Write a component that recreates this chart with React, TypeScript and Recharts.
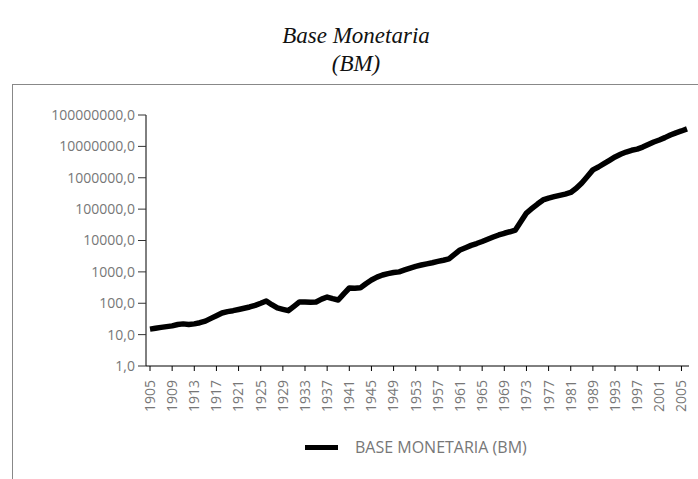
import React from "react";
import { Legend, Line, LineChart, XAxis, YAxis } from "recharts";

// años (faltan 1982-1985 en la serie original)
const years = [
  1905, 1906, 1907, 1908, 1909, 1910, 1911, 1912, 1913, 1914, 1915, 1916, 1917, 1918, 1919,
  1920, 1921, 1922, 1923, 1924, 1925, 1926, 1927, 1928, 1929, 1930, 1931, 1932, 1933, 1934,
  1935, 1936, 1937, 1938, 1939, 1940, 1941, 1942, 1943, 1944, 1945, 1946, 1947, 1948, 1949,
  1950, 1951, 1952, 1953, 1954, 1955, 1956, 1957, 1958, 1959, 1960, 1961, 1962, 1963, 1964,
  1965, 1966, 1967, 1968, 1969, 1970, 1971, 1972, 1973, 1974, 1975, 1976, 1977, 1978, 1979,
  1980, 1981, 1986, 1987, 1988, 1989, 1990, 1991, 1992, 1993, 1994, 1995, 1996, 1997, 1998,
  1999, 2000, 2001, 2002, 2003, 2004, 2005, 2006
];

const baseMonetaria = [
  15, 16, 17, 18, 19, 21, 22, 21, 22, 24, 27, 33, 40, 49, 54,
  58, 63, 69, 76, 86, 100, 118, 90, 71, 64, 58, 80, 110, 110, 108,
  110, 135, 158, 140, 127, 200, 306, 300, 310, 420, 551, 680, 795, 880, 950,
  1000, 1150, 1320, 1500, 1650, 1800, 1950, 2150, 2350, 2600, 3600, 5000, 5900, 7000, 8000,
  9300, 11000, 12900, 15000, 17000, 19000, 21600, 40000, 75000, 105000, 145000, 196000, 225000, 250000, 275000,
  302000, 340000, 460000, 680000, 1100000, 1780000, 2200000, 2800000, 3600000, 4600000, 5600000, 6600000, 7500000, 8200000, 9500000,
  11500000, 13800000, 16000000, 19000000, 23000000, 27000000, 31000000, 36000000
];

const yTicks = [1, 10, 100, 1000, 10000, 100000, 1000000, 10000000, 100000000];

const seriesName = "BASE MONETARIA (BM)";

const data = years.map((year, i) => ({ year: String(year), bm: baseMonetaria[i] }));

const labelFont = "'Open Sans', 'DejaVu Sans', sans-serif";

function YearTick({ x, y, payload }: any) {
  return (
    <g transform={`translate(${x},${y + 7})`}>
      <text
        transform="rotate(-90)"
        textAnchor="end"
        dy="0.35em"
        fontSize={14}
        fontFamily={labelFont}
        fill="#777"
      >
        {payload.value}
      </text>
    </g>
  );
}

function LegendBox() {
  return (
    <div style={{ position: "relative", width: 698, height: 26 }}>
      <div style={{ position: "absolute", left: 305, top: 10, width: 33, height: 5, background: "#000" }} />
      <span
        style={{
          position: "absolute",
          left: 355,
          top: 0,
          fontFamily: labelFont,
          fontSize: 16,
          lineHeight: "24px",
          color: "#777",
          whiteSpace: "nowrap"
        }}
      >
        {seriesName}
      </span>
    </div>
  );
}

export default function App() {
  return (
    <div style={{ position: "absolute", left: 0, top: 0, width: 698, height: 479, background: "#fff", overflow: "hidden" }}>
      <div
        style={{
          position: "absolute",
          left: 0,
          top: 22,
          width: 712,
          textAlign: "center",
          fontFamily: "'Liberation Serif', serif",
          fontStyle: "italic",
          fontSize: 23,
          lineHeight: "28px",
          color: "#111"
        }}
      >
        Base Monetaria
        <br />
        (BM)
      </div>
      <div
        style={{
          position: "absolute",
          left: 12,
          top: 84,
          width: 700,
          height: 420,
          borderLeft: "1px solid #888",
          borderTop: "1px solid #888"
        }}
      />
      <div style={{ position: "absolute", left: 0, top: 0 }}>
        <LineChart width={698} height={479} data={data} margin={{ top: 115, right: 9, left: 16, bottom: 53 }}>
          <XAxis
            dataKey="year"
            interval={3}
            height={60}
            padding={{ left: 4, right: 2 }}
            tick={<YearTick />}
            tickSize={5}
            axisLine={{ stroke: "#000" }}
            tickLine={{ stroke: "#000" }}
          />
          <XAxis xAxisId="top" dataKey="year" orientation="top" height={0} tick={false} tickLine={false} axisLine={{ stroke: "#000" }} />
          <YAxis
            scale="log"
            domain={[1, 100000000]}
            ticks={yTicks}
            allowDataOverflow
            width={130}
            tickSize={8}
            tickMargin={3}
            tickFormatter={(v) => `${v},0`}
            tick={{ fontSize: 14, fill: "#777", fontFamily: labelFont }}
            axisLine={{ stroke: "#000" }}
            tickLine={{ stroke: "#333" }}
          />
          <YAxis yAxisId="right" orientation="right" width={0} tick={false} tickLine={false} axisLine={{ stroke: "#333" }} />
          <Legend
            layout="horizontal"
            verticalAlign="middle"
            wrapperStyle={{ top: 435, left: 0, width: 698 }}
            content={() => <LegendBox />}
          />
          <Line
            dataKey="bm"
            name={seriesName}
            type="linear"
            stroke="#000"
            strokeWidth={5.5}
            strokeLinejoin="round"
            dot={false}
            isAnimationActive={false}
          />
        </LineChart>
      </div>
    </div>
  );
}
